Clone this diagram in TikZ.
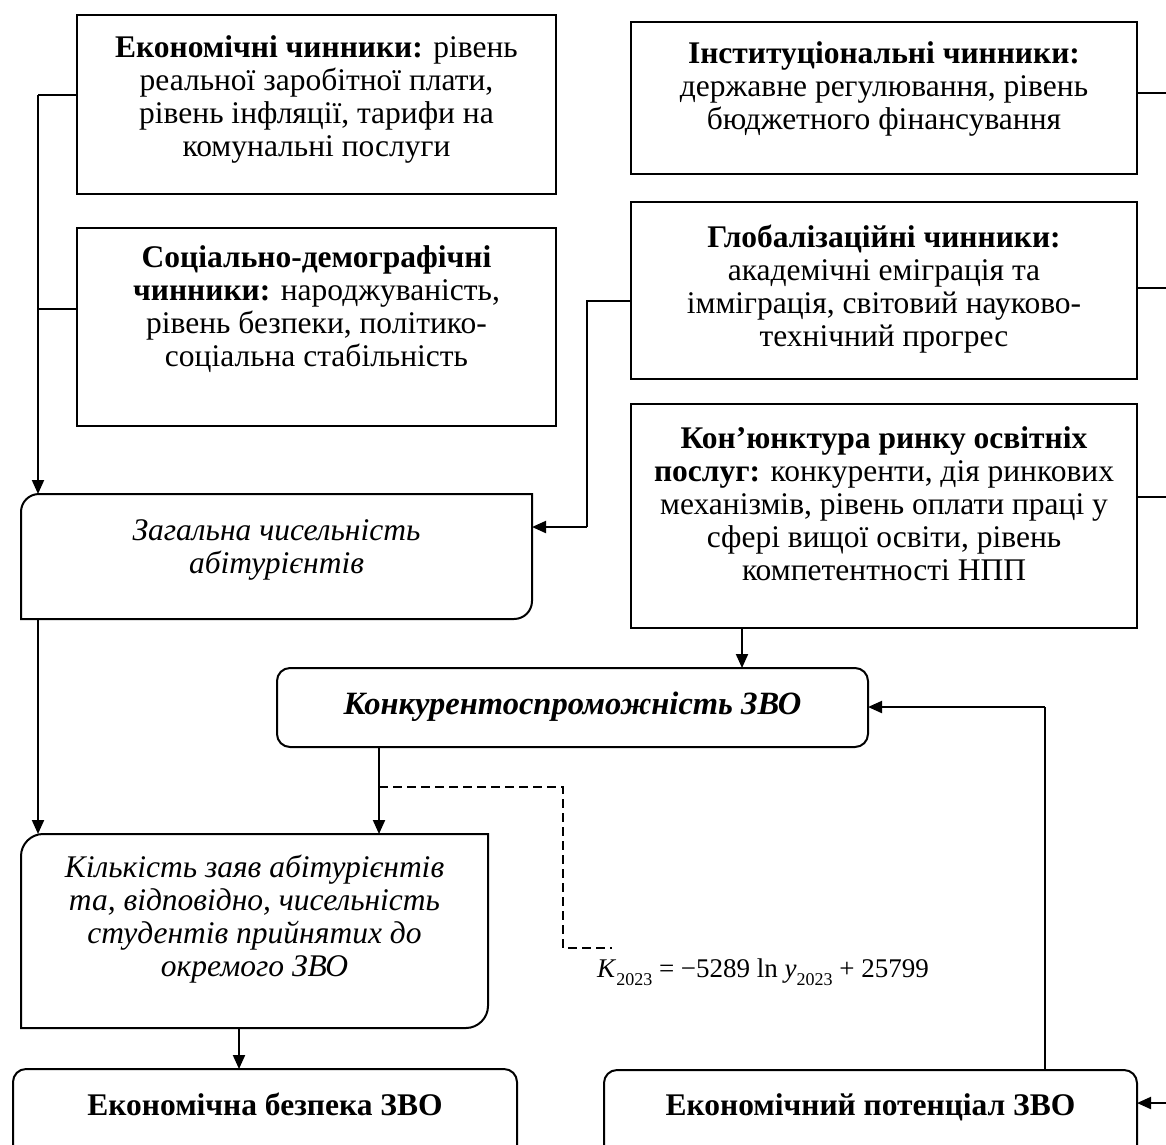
\documentclass[tikz,border=0pt]{standalone}
\usepackage{fontspec}
\setmainfont{Liberation Serif}
\usetikzlibrary{arrows.meta}
\newcommand{\lowsub}[1]{\raisebox{-0.28em}{\fontsize{18}{18}\selectfont #1}}
\begin{document}
\begin{tikzpicture}[x=1pt,y=-1pt,
  boxn/.style={draw, line width=2pt, inner sep=0pt, outer sep=0pt},
  shp/.style={draw=none, inner sep=0pt, outer sep=0pt},
  txt/.style={inner sep=0pt, align=center, font=\fontsize{31.5}{33}\selectfont},
  thickc/.style={line width=2pt},
  thinc/.style={line width=1.2pt},
  arr/.style={-{Triangle[length=14pt,width=12pt]}},
  dashc/.style={line width=1.6pt, dash pattern=on 9pt off 5pt},
]
\clip (0,0) rectangle (1166,1144);
% boxes
\node[boxn, minimum width=479pt, minimum height=179pt] (A) at (316.5,104.5) {};
\node[boxn, minimum width=479pt, minimum height=198pt] (B) at (316.5,327) {};
\node[boxn, minimum width=506pt, minimum height=152pt] (I) at (884,98) {};
\node[boxn, minimum width=506pt, minimum height=177pt] (G) at (884,290.5) {};
\node[boxn, minimum width=506pt, minimum height=224pt] (K) at (884,516) {};
\node[shp, minimum width=511pt, minimum height=125pt] (Z) at (276.5,556.5) {};
\node[boxn, rounded corners=13pt, minimum width=591pt, minimum height=79pt] (C) at (572.5,707.5) {};
\node[shp, minimum width=467pt, minimum height=194pt] (N) at (254.5,931) {};
\node[boxn, rounded corners=13pt, minimum width=504pt, minimum height=96pt] (S) at (265,1117) {};
\node[boxn, rounded corners=13pt, minimum width=533pt, minimum height=95pt] (P) at (870.5,1117.5) {};
% custom corner shapes
\draw[line width=2pt] (Z.south west) -- ([yshift=-18pt]Z.north west)
  .. controls ([yshift=-8pt]Z.north west) and ([xshift=8pt]Z.north west) .. ([xshift=18pt]Z.north west)
  -- (Z.north east) -- ([yshift=18pt]Z.south east)
  .. controls ([yshift=8pt]Z.south east) and ([xshift=-8pt]Z.south east) .. ([xshift=-18pt]Z.south east)
  -- cycle;
\draw[line width=2pt] (N.south west) -- ([yshift=-22pt]N.north west)
  .. controls ([yshift=-10pt]N.north west) and ([xshift=10pt]N.north west) .. ([xshift=22pt]N.north west)
  -- (N.north east) -- ([yshift=22pt]N.south east)
  .. controls ([yshift=10pt]N.south east) and ([xshift=-10pt]N.south east) .. ([xshift=-22pt]N.south east)
  -- cycle;
% texts
\node[txt, anchor=north] (At) at (316.5,35) {\textbf{Економічні чинники:} рівень\\реальної заробітної плати,\\рівень інфляції, тарифи на\\комунальні послуги};
\node[txt, anchor=north] (Bt) at (316.5,245) {\textbf{Соціально-демографічні}\\\textbf{чинники:} народжуваність,\\рівень безпеки, політико-\\соціальна стабільність};
\node[txt, anchor=north] (It) at (884,41) {\textbf{Інституціональні чинники:}\\державне регулювання, рівень\\бюджетного фінансування};
\node[txt, anchor=north] (Gt) at (884,225) {\textbf{Глобалізаційні чинники:}\\академічні еміграція та\\імміграція, світовий науково-\\технічний прогрес};
\node[txt, anchor=north] (Kt) at (884,426) {\textbf{Кон’юнктура ринку освітніх}\\\textbf{послуг:} конкуренти, дія ринкових\\механізмів, рівень оплати праці у\\сфері вищої освіти, рівень\\компетентності НПП};
\node[txt, anchor=north] (Zt) at (276.5,519) {\itshape Загальна чисельність\\\itshape абітурієнтів};
\node[txt, anchor=base, font=\fontsize{32.5}{33}\selectfont] (Ct) at (572.5,714) {\bfseries\itshape Конкурентоспроможність ЗВО};
\node[txt, anchor=north] (Nt) at (254.5,855) {\itshape Кількість заяв абітурієнтів\\\itshape та, відповідно, чисельність\\\itshape студентів прийнятих до\\\itshape окремого ЗВО};
\node[txt, anchor=base] (St) at (265,1115) {\bfseries Економічна безпека ЗВО};
\node[txt, anchor=base] (Pt) at (870.5,1115) {\bfseries Економічний потенціал ЗВО};
\node[inner sep=0pt, font=\fontsize{27}{30}\selectfont] (F) at (763,972) {\textit{K}\lowsub{2023} = −5289 ln \textit{y}\lowsub{2023} + 25799};
% coordinates
\coordinate (jA) at (38,95);
\coordinate (jB) at (38,309);
\coordinate (jG) at (587,301);
\coordinate (jG2) at (587,527);
\coordinate (xK) at (742,650);
\coordinate (xC) at (379,790);
\coordinate (xN) at (239,1050);
\coordinate (jP) at (1045,707);
\coordinate (d1) at (379,787);
\coordinate (d2) at (563,787);
\coordinate (d3) at (563,948);
\coordinate (d4) at (612,948);
\coordinate (eI) at (1166,93);
\coordinate (eG) at (1166,288);
\coordinate (eK) at (1166,497);
\coordinate (eP) at (1166,1103);
% connectors
\draw[thinc] (A.west |- jA) -- (jA);
\draw[thinc] (B.west |- jB) -- (jB);
\draw[thickc, arr] (jA) -- (jA |- Z.north);
\draw[thickc, arr] (Z.south -| jA) -- (N.north -| jA);
\draw[thinc] (G.west |- jG) -- (jG) -- (jG2);
\draw[thickc, arr] (jG2) -- (jG2 -| Z.east);
\draw[thickc, arr] (K.south -| xK) -- (C.north -| xK);
\draw[thickc, arr] (C.south -| xC) -- (N.north -| xC);
\draw[dashc] (d1) -- (d2) -- (d3) -- (d4);
\draw[thickc, arr] (N.south -| xN) -- (S.north -| xN);
\draw[thinc] (P.north -| jP) -- (jP);
\draw[thickc, arr] (jP) -- (C.east |- jP);
\draw[thinc] (I.east |- eI) -- (eI);
\draw[thinc] (G.east |- eG) -- (eG);
\draw[thinc] (K.east |- eK) -- (eK);
\draw[thickc, arr] (eP) -- (P.east |- eP);
\end{tikzpicture}
\end{document}
